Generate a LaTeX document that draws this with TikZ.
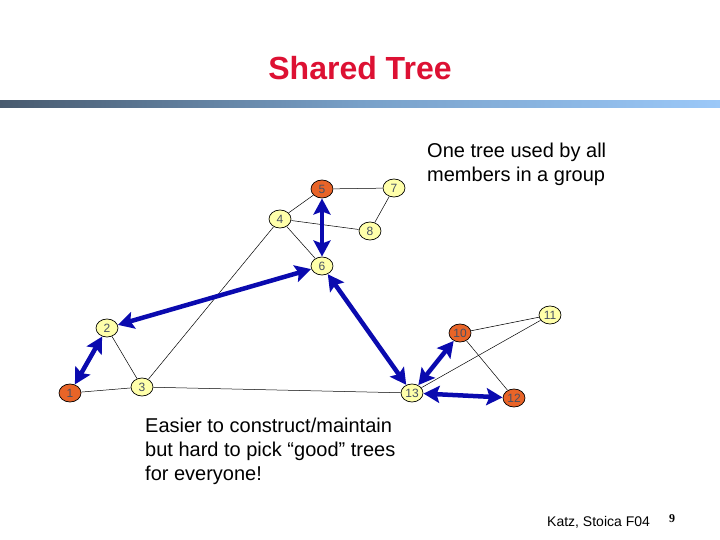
\documentclass[tikz,border=0pt]{standalone}
\usepackage{fontspec}
\setmainfont{Liberation Sans}
\newfontfamily\pagenumfont{Liberation Serif}
\usetikzlibrary{arrows.meta,shapes.geometric}
\definecolor{titlered}{RGB}{221,17,51}
\definecolor{nodeyellow}{RGB}{255,255,170}
\definecolor{nodeorange}{RGB}{232,100,40}
\definecolor{treeblue}{RGB}{10,10,175}
\definecolor{labelgray}{RGB}{70,80,100}
\definecolor{barleft}{RGB}{72,90,110}
\definecolor{barmid}{RGB}{120,160,200}
\definecolor{barright}{RGB}{155,200,248}
\tikzset{
  gnode/.style={ellipse, draw=black, line width=0.7pt, minimum width=22pt, minimum height=18pt, inner sep=0pt, font=\fontsize{12}{12}\selectfont, text=labelgray, outer sep=0.5pt},
  ynode/.style={gnode, fill=nodeyellow},
  onode/.style={gnode, fill=nodeorange},
  edge/.style={draw=black, line width=0.5pt},
  treearrow/.style={draw=treeblue, line width=4.5pt, {Stealth[length=16pt,width=17pt,inset=3pt]}-{Stealth[length=16pt,width=17pt,inset=3pt]}},
  bodytext/.style={align=left, anchor=north west, font=\fontsize{20}{24}\selectfont, inner sep=0pt}
}
\begin{document}
\begin{tikzpicture}[x=1pt,y=-1pt]
\useasboundingbox (0,0) rectangle (720,540);
\fill[white] (0,0) rectangle (720,540);
% title
\node[font=\fontsize{32}{32}\selectfont\bfseries, text=titlered] (title) at (360,68) {Shared Tree};
% gradient bar
\shade[left color=barleft, right color=barright, middle color=barmid] (0,101) rectangle (720,107.5);
% nodes
\node[onode] (n1) at (70,393) {1};
\node[ynode] (n2) at (107,328) {2};
\node[ynode] (n3) at (142,387) {3};
\node[ynode] (n4) at (280,219) {4};
\node[onode] (n5) at (322,189) {5};
\node[ynode] (n6) at (322,266) {6};
\node[ynode] (n7) at (394,188) {7};
\node[ynode] (n8) at (370,231) {8};
\node[onode] (n10) at (460,333) {10};
\node[ynode] (n11) at (550,315) {11};
\node[onode] (n12) at (514,398) {12};
\node[ynode] (n13) at (412,393) {13};
% thin edges
\draw[edge] (n5) -- (n7);
\draw[edge] (n5) -- (n4);
\draw[edge] (n4) -- (n8);
\draw[edge] (n7) -- (n8);
\draw[edge] (n4) -- (n6);
\draw[edge] (n4) -- (n3);
\draw[edge] (n2) -- (n3);
\draw[edge] (n1) -- (n3);
\draw[edge] (n3) -- (n13);
\draw[edge] (n10) -- (n11);
\draw[edge] (n11) -- (n13);
\draw[edge] (n10) -- (n12);
% tree arrows
\draw[treearrow] (n5) -- (n6);
\draw[treearrow] (n6) -- (n2);
\draw[treearrow] (n2) -- (n1);
\draw[treearrow] (n6) -- (n13);
\draw[treearrow] (n13) -- (n10);
\draw[treearrow] (n13) -- (n12);
% texts
\node[bodytext] (t1) at (427,143) {One tree used by all\\members in a group};
\node[bodytext] (t2) at (145,418) {Easier to construct/maintain\\but hard to pick “good” trees\\for everyone!};
\node[font=\fontsize{14}{14}\selectfont, anchor=west, inner sep=0pt] (foot) at (547,522) {Katz, Stoica F04};
\node[font=\fontsize{12}{12}\pagenumfont\bfseries, anchor=west, inner sep=0pt] (pg) at (669,519) {9};
\end{tikzpicture}
\end{document}
